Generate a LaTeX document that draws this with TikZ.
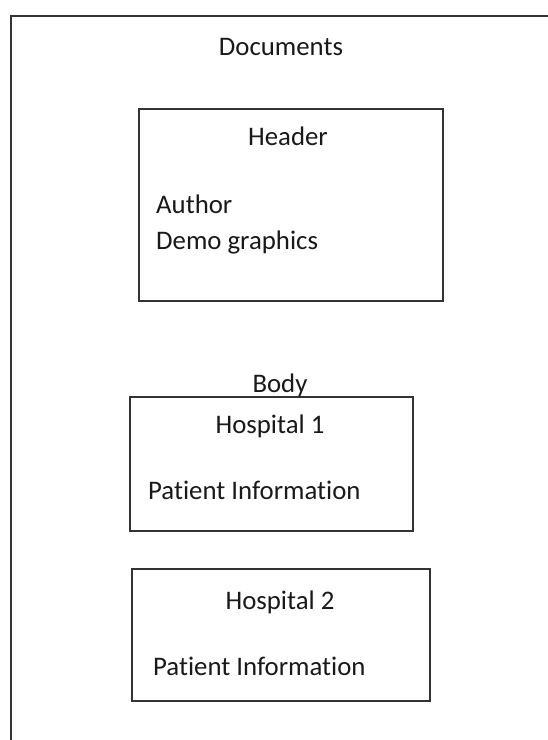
\documentclass[tikz,border=0pt]{standalone}
\usepackage{fontspec}
\setmainfont{Carlito}[Ligatures={NoCommon}]
\begin{document}
\begin{tikzpicture}[x=1pt,y=-1pt,
  frame/.style={draw=black!80,line width=2pt},
  boxnode/.style={draw=black!80,line width=2pt,inner sep=0pt,outer sep=0pt,anchor=north west},
  lbl/.style={font=\fontsize{26.8}{30}\selectfont,text=black!90,inner sep=0pt,anchor=base},
  lblw/.style={font=\fontsize{26.8}{30}\selectfont,text=black!90,inner sep=0pt,anchor=base west}]
\useasboundingbox (0,0) rectangle (548,740);
\clip (0,0) rectangle (548,740);
\fill[white] (0,0) rectangle (548,740);
\draw[frame] (11,15.5) rectangle (600,800);
\node[lbl] (docs) at (281,55) {Documents};
\node[boxnode,minimum width=304pt,minimum height=192pt] (header) at (139,109) {};
\node[lbl] (headerlbl) at (288,145) {Header};
\node[lblw] (author) at (156,213) {Author};
\node[lblw] (demo) at (156,249) {Demo graphics};
\node[lbl] (body) at (280,392) {Body};
\node[boxnode,minimum width=283pt,minimum height=134pt] (hosp1) at (130,397) {};
\node[lbl] (hosp1lbl) at (270,433) {Hospital 1};
\node[lblw] (pi1) at (148,499) {Patient Information};
\node[boxnode,minimum width=298pt,minimum height=132pt] (hosp2) at (132,569) {};
\node[lbl] (hosp2lbl) at (280,609) {Hospital 2};
\node[lblw] (pi2) at (153,675) {Patient Information};
\end{tikzpicture}
\end{document}
